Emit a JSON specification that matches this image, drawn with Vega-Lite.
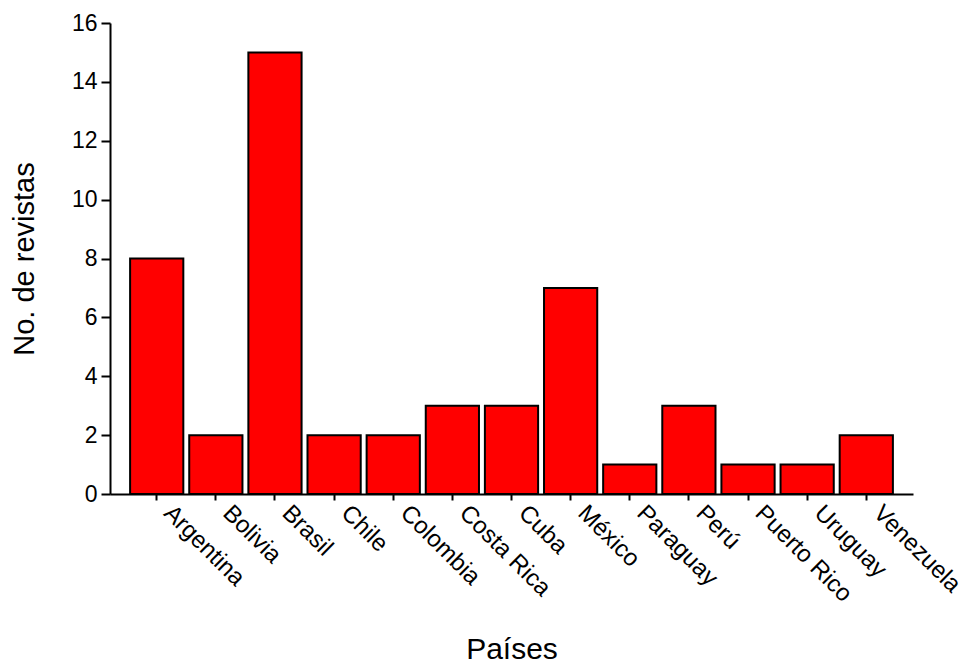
{
  "$schema": "https://vega.github.io/schema/vega-lite/v6.json",
  "width": 803,
  "height": 471,
  "autosize": {"type": "none"},
  "padding": {"left": 110, "top": 23, "right": 54, "bottom": 169},
  "background": "white",
  "config": {
    "view": {"stroke": null},
    "font": "Liberation Sans"
  },
  "data": {
    "values": [
      {"pais": "Argentina", "n": 8},
      {"pais": "Bolivia", "n": 2},
      {"pais": "Brasil", "n": 15},
      {"pais": "Chile", "n": 2},
      {"pais": "Colombia", "n": 2},
      {"pais": "Costa Rica", "n": 3},
      {"pais": "Cuba", "n": 3},
      {"pais": "México", "n": 7},
      {"pais": "Paraguay", "n": 1},
      {"pais": "Perú", "n": 3},
      {"pais": "Puerto Rico", "n": 1},
      {"pais": "Uruguay", "n": 1},
      {"pais": "Venezuela", "n": 2}
    ]
  },
  "mark": {"type": "bar", "color": "#ff0000", "stroke": "black", "strokeWidth": 2},
  "encoding": {
    "x": {
      "field": "pais",
      "type": "nominal",
      "sort": null,
      "scale": {"paddingInner": 0.1, "paddingOuter": 0.34},
      "axis": {
        "title": "Países",
        "titleFont": "Liberation Sans",
        "titleFontSize": 30,
        "titleFontWeight": "normal",
        "titleColor": "black",
        "titleBaseline": "alphabetic",
        "titleY": 164,
        "labelAngle": 45,
        "labelAlign": "left",
        "labelBaseline": "alphabetic",
        "labelFontSize": 24,
        "labelColor": "black",
        "labelPadding": 14,
        "labelOffset": 6,
        "labelFont": "Liberation Sans",
        "domainColor": "black",
        "domainWidth": 2,
        "tickColor": "black",
        "tickWidth": 2,
        "tickSize": 6,
        "grid": false
      }
    },
    "y": {
      "field": "n",
      "type": "quantitative",
      "scale": {"domain": [0, 16], "nice": false},
      "axis": {
        "title": "No. de revistas",
        "titleFont": "Liberation Sans",
        "titleFontSize": 29,
        "titleFontWeight": "normal",
        "titleColor": "black",
        "titleX": -71,
        "values": [0, 2, 4, 6, 8, 10, 12, 14, 16],
        "labelFontSize": 23,
        "labelColor": "black",
        "labelPadding": 4,
        "labelFont": "Liberation Sans",
        "domainColor": "black",
        "domainWidth": 2,
        "tickColor": "black",
        "tickWidth": 2,
        "tickSize": 9,
        "grid": false
      }
    }
  }
}
